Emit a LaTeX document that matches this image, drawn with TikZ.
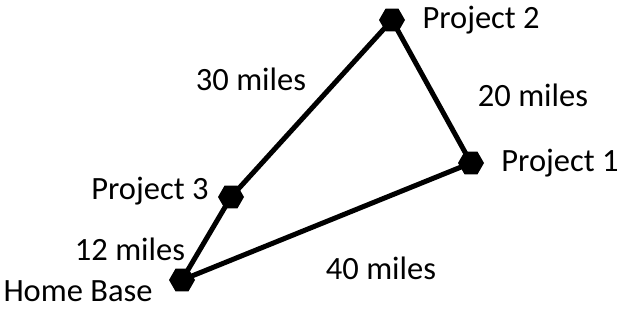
\documentclass[tikz,border=0pt]{standalone}
\usepackage{fontspec}
\setmainfont{Carlito}
\usetikzlibrary{shapes.geometric,positioning}

\begin{document}
\begin{tikzpicture}[x=1pt,y=-1pt,line width=5pt,line join=round]
	\tikzstyle{site}=[regular polygon,regular polygon sides=6,fill=black,
	minimum size=26pt,
	inner sep=0pt
	]
	\tikzstyle{lbl}=[font=\fontsize{32.5}{37}\selectfont,inner sep=0pt]
\useasboundingbox (0,0) rectangle (623,331);
\node[site](p2) at (392,20){};
\node[site](p1) at (471,163){};
\node[site](p3) at (231,197){};
\node[site](hb) at (182,280){};

\node[lbl,anchor=west] (l2) at (420,20){Project 2};
\node[lbl,anchor=east] (l1) at (621,163){Project 1};
\node[lbl,anchor=east] (l3) at (211,191){Project 3};
\node[lbl,anchor=west] (lh) at (1,291){Home Base};

\draw (hb.center) -- (p3.center) -- (p2.center) -- (p1.center) -- (hb.center);

\node[lbl] (d32) at (251,79){30 miles};
\node[lbl] (d21) at (533,95){20 miles};
\node[lbl] (dh3) at (130,249){12 miles};
\node[lbl] (dh1) at (381,268){40 miles};
\end{tikzpicture}
\end{document}
